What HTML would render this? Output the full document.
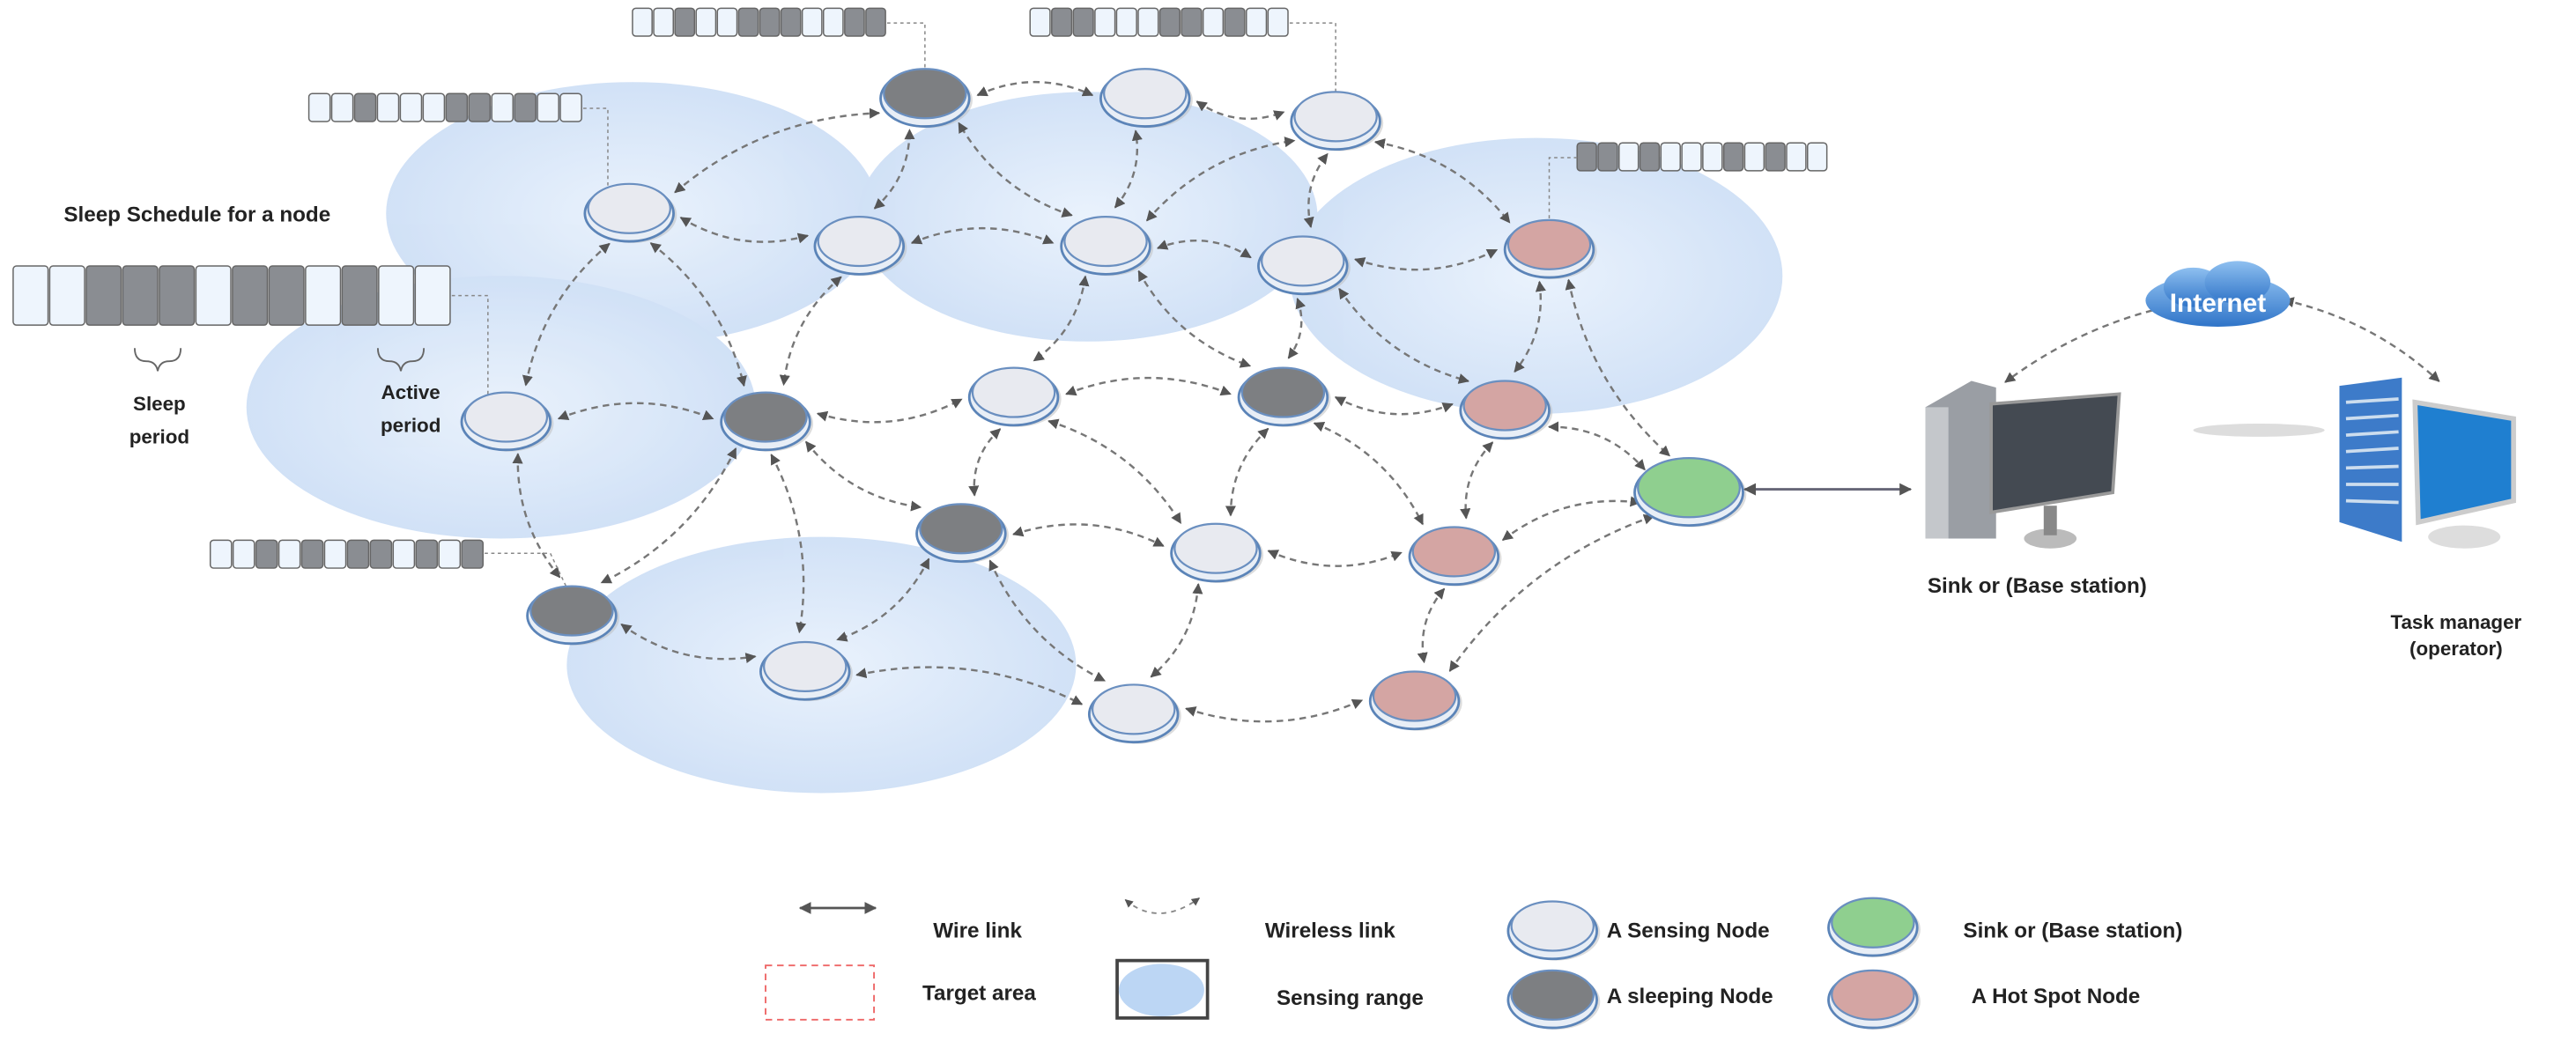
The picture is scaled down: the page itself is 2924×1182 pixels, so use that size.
<!DOCTYPE html>
<html><head><meta charset="utf-8"><style>
html,body{margin:0;padding:0;background:#fff;}
svg{display:block;}
text{font-family:"Liberation Sans",sans-serif;font-weight:bold;fill:#222;}
</style></head><body>
<svg id="s" width="2924" height="1182" viewBox="0 0 1568 634" preserveAspectRatio="none" xmlns="http://www.w3.org/2000/svg">
<defs>
<radialGradient id="rg" cx="50%" cy="50%" r="50%"><stop offset="0" stop-color="#e6f0fc"/><stop offset="1" stop-color="#c9dcf5"/></radialGradient>
<marker id="ah" viewBox="0 0 10 10" refX="9" refY="5" markerWidth="5" markerHeight="5" orient="auto-start-reverse"><path d="M0,0L10,5L0,10z" fill="#555"/></marker>
<linearGradient id="cl" x1="0" y1="0" x2="0" y2="1"><stop offset="0" stop-color="#8fc0f0"/><stop offset="1" stop-color="#2f74c8"/></linearGradient>
</defs>
<g opacity="0.85">
<ellipse cx="385" cy="130" rx="150" ry="80" fill="url(#rg)"/>
<ellipse cx="662" cy="132" rx="140" ry="76" fill="url(#rg)"/>
<ellipse cx="935" cy="168" rx="150" ry="84" fill="url(#rg)"/>
<ellipse cx="305" cy="248" rx="155" ry="80" fill="url(#rg)"/>
<ellipse cx="500" cy="405" rx="155" ry="78" fill="url(#rg)"/>
</g>
<g id="edges" fill="none" stroke="#777" stroke-width="1.3" stroke-dasharray="4,3"></g>
<g id="bars"></g>
<g id="nodes"></g>
<!-- wire link -->
<line x1="1062" y1="298" x2="1163" y2="298" stroke="#667" stroke-width="1.5" marker-start="url(#ah)" marker-end="url(#ah)"/>
<!-- cloud -->
<g>
<ellipse cx="1350" cy="183" rx="44" ry="16" fill="url(#cl)"/>
<ellipse cx="1335" cy="175" rx="18" ry="12" fill="url(#cl)"/>
<ellipse cx="1362" cy="172" rx="20" ry="13" fill="url(#cl)"/>
<text x="1350" y="190" font-size="16" text-anchor="middle" style="fill:#fff">Internet</text>
</g>
<!-- sink computer -->
<g>
<path d="M1172,248 L1200,232 L1215,236 L1215,328 L1172,328 Z" fill="#9a9ea4"/>
<rect x="1172" y="248" width="14" height="80" fill="#c4c7cb"/>
<path d="M1212,246 L1290,240 L1286,300 L1212,312 Z" fill="#444a52" stroke="#999" stroke-width="2"/>
<ellipse cx="1248" cy="328" rx="16" ry="6" fill="#bbb"/>
<rect x="1244" y="308" width="8" height="18" fill="#888"/>
<text x="1240" y="361" font-size="13" text-anchor="middle">Sink or (Base station)</text>
</g>
<!-- server -->
<g>
<path d="M1424,235 L1462,230 L1462,330 L1424,318 Z" fill="#3d7bc9"/>
<g stroke="#cde" stroke-width="2">
<line x1="1428" y1="245" x2="1460" y2="243"/><line x1="1428" y1="255" x2="1460" y2="253"/><line x1="1428" y1="265" x2="1460" y2="263"/><line x1="1428" y1="275" x2="1460" y2="273"/><line x1="1428" y1="285" x2="1460" y2="284"/><line x1="1428" y1="295" x2="1460" y2="295"/><line x1="1428" y1="305" x2="1460" y2="306"/>
</g>
<path d="M1470,245 L1530,255 L1530,305 L1472,318 Z" fill="#1f7fd0" stroke="#ccc" stroke-width="3"/>
<ellipse cx="1500" cy="327" rx="22" ry="7" fill="#ddd"/>
<ellipse cx="1375" cy="262" rx="40" ry="4" fill="#ddd"/>
<text x="1495" y="383" font-size="12" text-anchor="middle">Task manager</text>
<text x="1495" y="399" font-size="12" text-anchor="middle">(operator)</text>
</g>
<!-- schedule labels -->
<text x="120" y="135" font-size="13" text-anchor="middle">Sleep Schedule for a node</text>
<path d="M82,212 q0,8 7,8 q6,0 7,6 q1,-6 7,-6 q7,0 7,-8" fill="none" stroke="#666" stroke-width="1"/>
<path d="M230,212 q0,8 7,8 q6,0 7,6 q1,-6 7,-6 q7,0 7,-8" fill="none" stroke="#666" stroke-width="1"/>
<text x="97" y="250" font-size="12" text-anchor="middle">Sleep</text>
<text x="97" y="270" font-size="12" text-anchor="middle">period</text>
<text x="250" y="243" font-size="12" text-anchor="middle">Active</text>
<text x="250" y="263" font-size="12" text-anchor="middle">period</text>
<!-- legend -->
<line x1="487" y1="553" x2="533" y2="553" stroke="#555" stroke-width="1.5" marker-start="url(#ah)" marker-end="url(#ah)"/>
<text x="595" y="571" font-size="13" text-anchor="middle">Wire link</text>
<path d="M685,548 Q705,565 730,547" fill="none" stroke="#888" stroke-dasharray="3,3" marker-start="url(#ah)" marker-end="url(#ah)"/>
<text x="770" y="571" font-size="13">Wireless link</text>
<rect x="466" y="588" width="66" height="33" fill="none" stroke="#e66" stroke-dasharray="4,3"/>
<text x="596" y="609" font-size="13" text-anchor="middle">Target area</text>
<rect x="680" y="585" width="55" height="35" fill="none" stroke="#444" stroke-width="2"/>
<ellipse cx="707" cy="603" rx="26" ry="16" fill="#bcd6f4"/>
<text x="777" y="612" font-size="13">Sensing range</text>
<text x="978" y="571" font-size="13">A Sensing Node</text>
<text x="1195" y="571" font-size="13">Sink or (Base station)</text>
<text x="978" y="611" font-size="13">A sleeping Node</text>
<text x="1200" y="611" font-size="13">A Hot Spot Node</text>
</svg>
<script>
var NS="http://www.w3.org/2000/svg";
function el(t,a,p){var e=document.createElementNS(NS,t);for(var k in a)e.setAttribute(k,a[k]);document.getElementById(p).appendChild(e);return e;}
var col={s:"#e8eaf0",d:"#7d7f82",h:"#d4a5a3",g:"#8fcf8f"};
var N=[["s",383,128],["s",523,148],["s",673,148],["s",697,58],["s",813,72],["s",793,160],["s",617,240],["s",308,255],["s",740,335],["s",490,407],["s",690,433],
["d",563,58],["d",466,255],["d",781,240],["d",585,323],["d",348,373],
["h",943,150],["h",916,248],["h",885,337],["h",861,425],["g",1028,298,33,20],
["s",945,565],["g",1140,563],["d",945,607],["h",1140,607]];
// edges
var E=[[563,58,697,58],[697,58,813,72],[383,128,563,58],[383,128,523,148],[523,148,673,148],[523,148,563,58],[673,148,563,58],[673,148,697,58],[673,148,813,72],[793,160,673,148],[813,72,943,150],[793,160,943,150],[793,160,813,72],
[383,128,308,255],[383,128,466,255],[523,148,466,255],[673,148,617,240],[673,148,781,240],[793,160,781,240],[793,160,916,248],[943,150,916,248],[943,150,1028,298],
[308,255,466,255],[466,255,617,240],[617,240,781,240],[781,240,916,248],[916,248,1028,298],[308,255,348,373],[466,255,348,373],[466,255,585,323],[466,255,490,407],[617,240,585,323],[617,240,740,335],[781,240,740,335],[781,240,885,337],[916,248,885,337],
[585,323,740,335],[740,335,885,337],[885,337,1028,298],[348,373,490,407],[585,323,490,407],[585,323,690,433],[740,335,690,433],[885,337,861,425],[490,407,690,433],[690,433,861,425],[861,425,1028,298],
[1350,180,1215,235],[1385,180,1490,235]];
E.forEach(function(e,i){var x1=e[0],y1=e[1],x2=e[2],y2=e[3],dx=x2-x1,dy=y2-y1,L=Math.hypot(dx,dy),ux=dx/L,uy=dy/L;
function cut(){ // shrink toward ellipse boundary
 var r=1/Math.sqrt((ux*ux)/(32*32)+(uy*uy)/(22*22));return r;}
var r=cut();if(i>=47)r=6;
var ax=x1+ux*r,ay=y1+uy*r,bx=x2-ux*r,by=y2-uy*r;
var off=(i%2?1:-1)*L*0.12;var cx=(ax+bx)/2-uy*off,cy=(ay+by)/2+ux*off;
el("path",{d:"M"+ax+","+ay+" Q"+cx+","+cy+" "+bx+","+by,"marker-start":"url(#ah)","marker-end":"url(#ah)"},"edges");});
// bars
function bar(x,y,w,h,pat,lx,ly){var cw=w/pat.length;for(var i=0;i<pat.length;i++){el("rect",{x:x+i*cw,y:y,width:cw-1,height:h,rx:2,fill:pat[i]=="D"?"#8a8d92":"#eef5fd",stroke:"#666","stroke-width":0.8},"bars");}
el("path",{d:lx,fill:"none",stroke:"#888","stroke-width":0.8,"stroke-dasharray":"2,2"},"bars");}
bar(385,5,155,17,"LLDLLDDDLLDD","M540,14 L563,14 L563,42");
bar(627,5,158,17,"LDDLLLDDLDLL","M785,14 L813,14 L813,56");
bar(188,57,167,17,"LLDLLLDDLDLL","M355,66 L370,66 L370,115");
bar(8,162,267,36,"LLDDDLDDLDLL","M275,180 L297,180 L297,240");
bar(960,87,153,17,"DDLDLLLDLDLL","M960,96 L943,96 L943,134");
bar(128,329,167,17,"LLDLDLDDLDLD","M295,337 L335,337 L345,358");
// nodes
N.forEach(function(n){var rx=n[3]||27,ry=n[4]||17,x=n[1],y=n[2];
el("ellipse",{cx:x+2,cy:y+3,rx:rx,ry:ry,fill:"#bbb",opacity:0.5},"nodes");
el("ellipse",{cx:x,cy:y+2,rx:rx,ry:ry,fill:"#e8eef6",stroke:"#5b84b8","stroke-width":1.5},"nodes");
el("ellipse",{cx:x,cy:y-1,rx:rx-2,ry:ry-2,fill:col[n[0]],stroke:"#6a8fc0","stroke-width":1.2},"nodes");});
</script>
</body></html>
